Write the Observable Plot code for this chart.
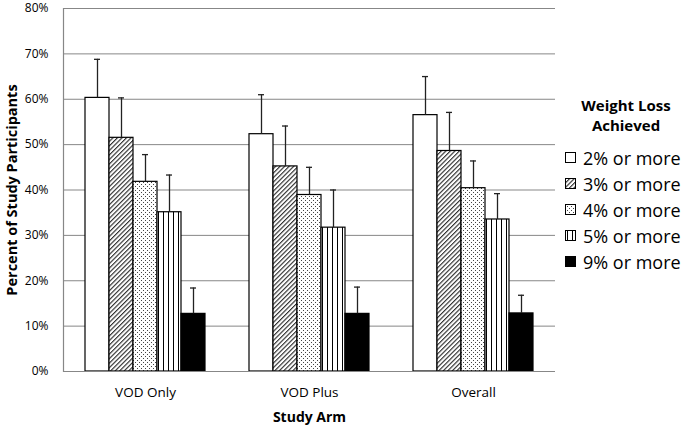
<!DOCTYPE html>
<html><head><meta charset="utf-8">
<script src="https://cdn.jsdelivr.net/npm/d3@7"></script>
<script src="https://cdn.jsdelivr.net/npm/@observablehq/plot@0.6"></script>
<style>
body{margin:0;background:#fff;font-family:"Open Sans",sans-serif;}
#wrap{position:relative;width:685px;height:426px;}
#wrap svg{display:block;}
[aria-label="y-axis label"]{font-weight:bold;font-size:14.5px;}
[aria-label="fx-axis label"]{font-weight:bold;font-size:14px;}
#legend{position:absolute;left:565px;top:95px;width:122px;color:#000;}
#legend .title{font-weight:bold;font-size:15px;line-height:20px;text-align:center;width:122px;}
#legend .items{margin-top:10px;}
#legend .item{display:flex;align-items:center;height:26px;font-size:18px;white-space:nowrap;}
#legend .item svg{margin-right:6px;flex:none;}
</style></head><body><div id="wrap"></div>
<script>
// ---- data ----
const arms = ["VOD Only", "VOD Plus", "Overall"];
const levels = ["2% or more", "3% or more", "4% or more", "5% or more", "9% or more"];
const valVODOnly  = [60.3, 51.5, 41.8, 35.1, 12.7];
const upVODOnly   = [68.8, 60.3, 47.8, 43.3, 18.4];
const valVODPlus  = [52.3, 45.2, 38.9, 31.7, 12.7];
const upVODPlus   = [61.0, 54.1, 45.0, 40.0, 18.6];
const valOverall  = [56.5, 48.6, 40.4, 33.5, 12.8];
const upOverall   = [65.0, 57.1, 46.4, 39.2, 16.8];
const yTicks = [0, 10, 20, 30, 40, 50, 60, 70, 80];
const legendTitle = ["Weight Loss", "Achieved"];

const vals = [valVODOnly, valVODPlus, valOverall];
const ups = [upVODOnly, upVODPlus, upOverall];
const rows = arms.flatMap((arm, i) => levels.map((level, j) => ({arm, level, value: vals[i][j], upper: ups[i][j]})));

// ---- styles ----
const fills = ["#ffffff", "url(#pat3)", "url(#pat4)", "url(#pat5)", "#000000"];
const gridColor = "#878787";

const chart = Plot.plot({
  width: 685, height: 426,
  marginLeft: 62, marginRight: 129, marginTop: 8, marginBottom: 55,
  style: {fontFamily: "'Open Sans', sans-serif", fontSize: "13px", color: "#000", background: "#fff", overflow: "visible"},
  fx: {domain: arms, padding: 0, label: "Study Arm", labelArrow: "none"},
  x: {domain: levels, paddingInner: 0, paddingOuter: 0.793, axis: null},
  y: {domain: [0, 80], label: "Percent of Study Participants", labelArrow: "none"},
  color: {domain: levels, range: fills},
  marks: [
    Plot.gridY(yTicks.slice(1), {stroke: gridColor, strokeOpacity: 1, strokeWidth: 1}),
    Plot.axisY(yTicks, {tickSize: 0, tickPadding: 15, tickFormat: d => d + "%", fontSize: 12,
      label: "Percent of Study Participants", labelAnchor: "center", labelOffset: 57, labelArrow: "none"}),
    Plot.axisFx({anchor: "bottom", tickSize: 0, tickPadding: 16, fontSize: 13.5,
      label: "Study Arm", labelAnchor: "center", labelOffset: 50, labelArrow: "none"}),
    Plot.barY(rows, {fx: "arm", x: "level", y: "value", fill: "level", stroke: "#000", strokeWidth: 1.2}),
    Plot.ruleX(rows, {fx: "arm", x: "level", y1: "value", y2: "upper", stroke: "#222", strokeWidth: 1.3}),
    Plot.tickY(rows, {fx: "arm", x: "level", y: "upper", stroke: "#222", strokeWidth: 1.3, insetLeft: 9, insetRight: 9}),
    Plot.ruleY([0], {stroke: gridColor, strokeWidth: 1.2}),
    Plot.frame({anchor: "left", facetAnchor: "left", stroke: gridColor, strokeWidth: 1.2})
  ]
});

// pattern definitions
const defs = d3.select(chart).insert("defs", ":first-child");
const p3 = defs.append("pattern").attr("id", "pat3").attr("patternUnits", "userSpaceOnUse")
  .attr("width", 3.2).attr("height", 3.2).attr("patternTransform", "rotate(45)");
p3.append("rect").attr("width", 3.2).attr("height", 3.2).attr("fill", "#fff");
p3.append("line").attr("x1", 0.6).attr("x2", 0.6).attr("y1", 0).attr("y2", 3.2).attr("stroke", "#111").attr("stroke-width", 1);
const p4 = defs.append("pattern").attr("id", "pat4").attr("patternUnits", "userSpaceOnUse")
  .attr("width", 4).attr("height", 4);
p4.append("rect").attr("width", 4).attr("height", 4).attr("fill", "#fff");
p4.append("rect").attr("x", 0).attr("y", 0).attr("width", 1).attr("height", 1).attr("fill", "#444");
p4.append("rect").attr("x", 2).attr("y", 2).attr("width", 1).attr("height", 1).attr("fill", "#444");
const p5 = defs.append("pattern").attr("id", "pat5").attr("patternUnits", "userSpaceOnUse")
  .attr("width", 5).attr("height", 5);
p5.append("rect").attr("width", 5).attr("height", 5).attr("fill", "#fff");
p5.append("line").attr("x1", 2.5).attr("x2", 2.5).attr("y1", 0).attr("y2", 5).attr("stroke", "#000").attr("stroke-width", 1);

const wrap = document.getElementById("wrap");
wrap.appendChild(chart);

// legend
const legend = d3.select(wrap).append("div").attr("id", "legend");
legend.append("div").attr("class", "title").selectAll("div").data(legendTitle).join("div").text(d => d);
const items = legend.append("div").attr("class", "items").selectAll("div").data(levels).join("div").attr("class", "item");
const sw = items.append("svg").attr("width", 12).attr("height", 12);
sw.append("rect").attr("x", 0.5).attr("y", 0.5).attr("width", 10).attr("height", 10)
  .attr("fill", (d, i) => fills[i]).attr("stroke", "#000").attr("stroke-width", 1);
items.append("span").text(d => d);
</script>
</body></html>
